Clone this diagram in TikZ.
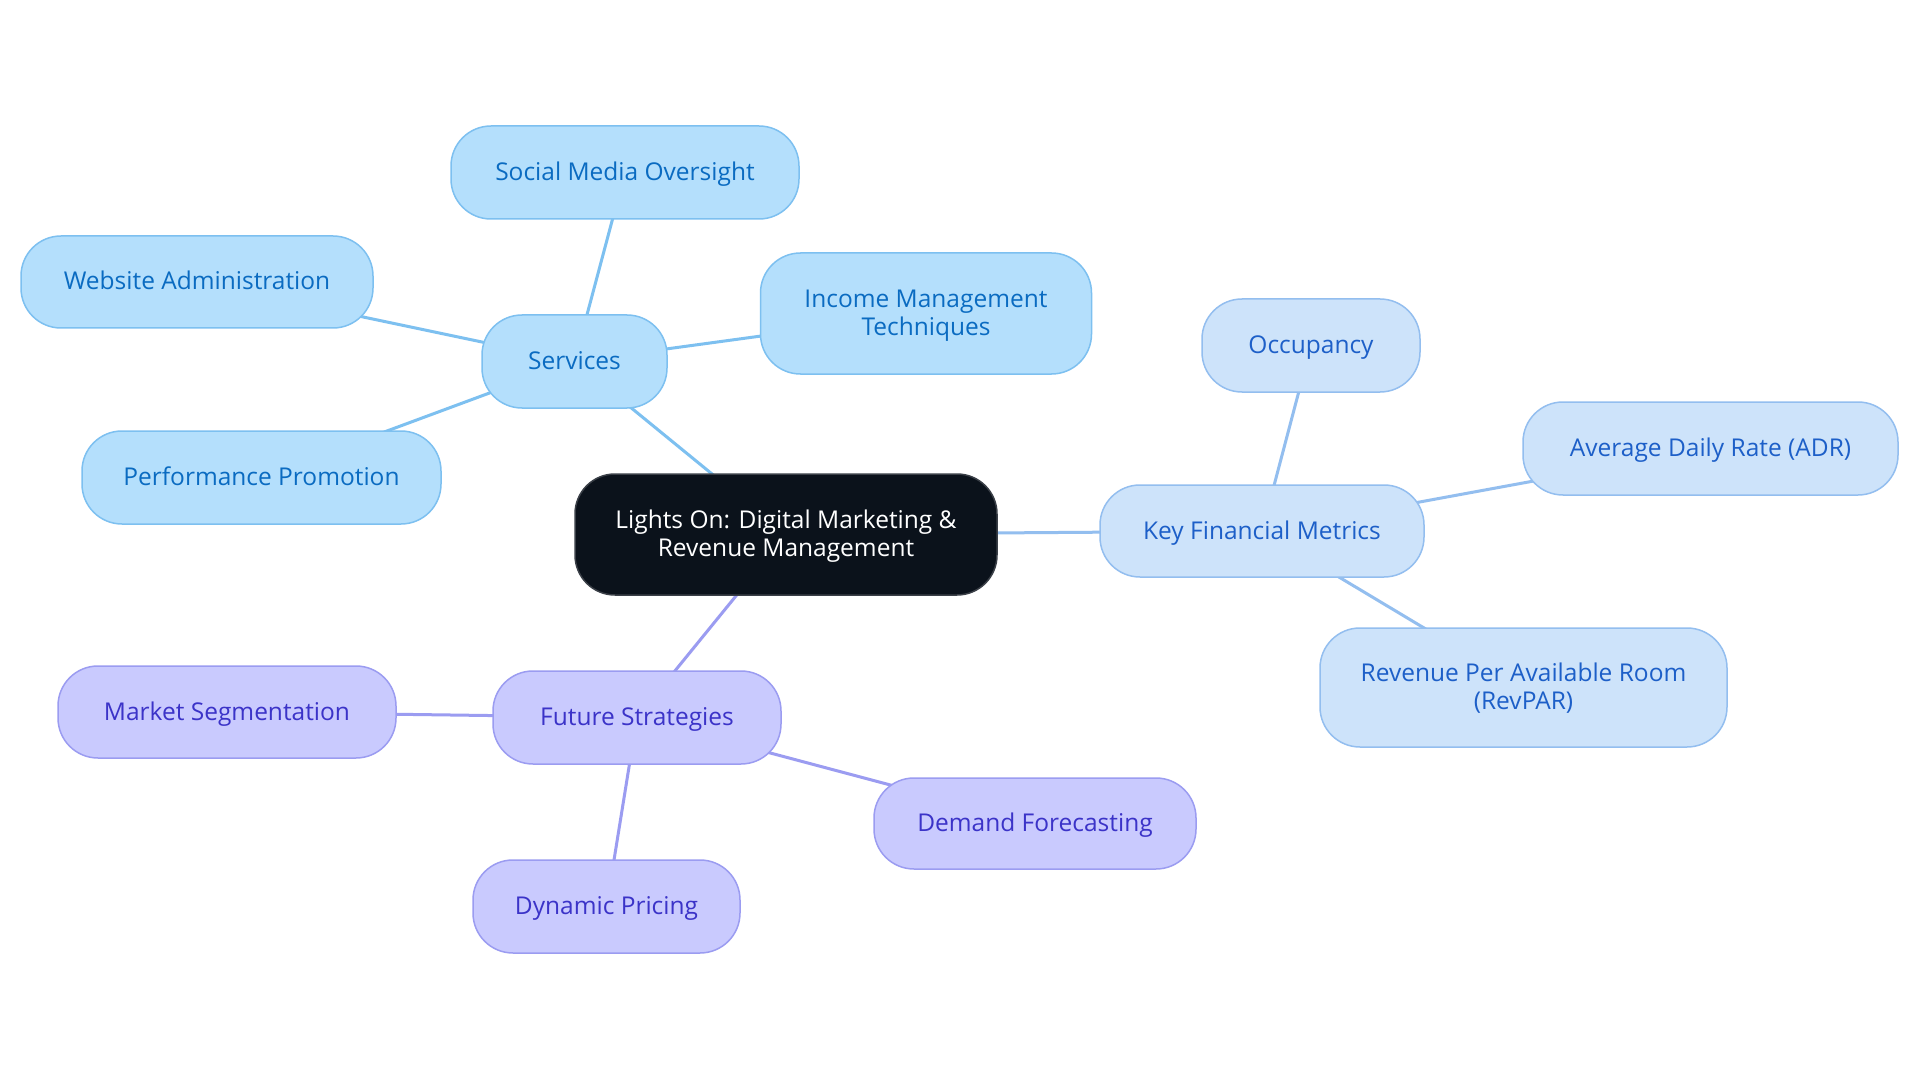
\documentclass[tikz,border=0pt]{standalone}
\usepackage{fontspec}
\setmainfont{Open Sans}
\usetikzlibrary{backgrounds}
\definecolor{svcfill}{HTML}{B4DFFC}
\definecolor{svcdraw}{HTML}{7DC0F0}
\definecolor{svctext}{HTML}{0A6BC1}
\definecolor{kfmfill}{HTML}{CDE3FA}
\definecolor{kfmdraw}{HTML}{93BEEF}
\definecolor{kfmtext}{HTML}{1D5FC8}
\definecolor{futfill}{HTML}{C9CAFE}
\definecolor{futdraw}{HTML}{9B9CF1}
\definecolor{futtext}{HTML}{3B33C8}
\definecolor{ctrfill}{HTML}{0B121B}
\definecolor{ctrdraw}{HTML}{3A3F47}
\tikzset{
  box/.style={rectangle, rounded corners=40pt, inner sep=0pt, line width=1.5pt, align=center,
    font=\fontsize{24.5}{27.5}\selectfont,
    execute at begin node={\rule{0pt}{23pt}},
    execute at end node={\rule[-7pt]{0pt}{7pt}}},
  twoline/.style={execute at begin node={\rule{0pt}{50.5pt}}},
  svc/.style={box, fill=svcfill, draw=svcdraw, text=svctext},
  kfm/.style={box, fill=kfmfill, draw=kfmdraw, text=kfmtext},
  fut/.style={box, fill=futfill, draw=futdraw, text=futtext},
  ctr/.style={box, fill=ctrfill, draw=ctrdraw, text=white},
  svcedge/.style={draw=svcdraw, line width=3pt},
  kfmedge/.style={draw=kfmdraw, line width=3pt},
  futedge/.style={draw=futdraw, line width=3pt},
}
\begin{document}
\begin{tikzpicture}[x=1pt, y=-1pt]
\useasboundingbox (0,0) rectangle (1920,1083);
\node[ctr, twoline, minimum width=422pt, minimum height=121pt] (center) at (786,534.5) {Lights On: Digital Marketing \&\\Revenue Management};
\node[svc, minimum width=185pt, minimum height=93pt] (services) at (574.5,361.5) {Services};
\node[svc, minimum width=348pt, minimum height=93pt] (social) at (625,172.5) {Social Media Oversight};
\node[svc, twoline, minimum width=331pt, minimum height=121pt] (income) at (926,313.5) {Income Management\\Techniques};
\node[svc, minimum width=352pt, minimum height=92pt] (website) at (197,282) {Website Administration};
\node[svc, minimum width=359pt, minimum height=93pt] (perf) at (261.5,477.5) {Performance Promotion};
\node[kfm, minimum width=324pt, minimum height=92pt] (kfmn) at (1262,531) {Key Financial Metrics};
\node[kfm, minimum width=218pt, minimum height=93pt] (occ) at (1311,345.5) {Occupancy};
\node[kfm, minimum width=375pt, minimum height=93pt] (adr) at (1710.5,448.5) {Average Daily Rate (ADR)};
\node[kfm, twoline, minimum width=407pt, minimum height=119pt] (revpar) at (1523.5,687.5) {Revenue Per Available Room\\(RevPAR)};
\node[fut, minimum width=288pt, minimum height=93pt] (future) at (637,717.5) {Future Strategies};
\node[fut, minimum width=338pt, minimum height=92pt] (market) at (227,712) {Market Segmentation};
\node[fut, minimum width=322pt, minimum height=91pt] (demand) at (1035,823.5) {Demand Forecasting};
\node[fut, minimum width=267pt, minimum height=93pt] (dynamic) at (606.5,906.5) {Dynamic Pricing};
\begin{scope}[on background layer]
\fill[white] (0,0) rectangle (1920,1083);
\draw[svcedge] (center.center) -- (services.center);
\draw[svcedge] (services.center) -- (social.center);
\draw[svcedge] (services.center) -- (income.center);
\draw[svcedge] (services.center) -- (website.center);
\draw[svcedge] (services.center) -- (perf.center);
\draw[kfmedge] (center.center) -- (kfmn.center);
\draw[kfmedge] (kfmn.center) -- (occ.center);
\draw[kfmedge] (kfmn.center) -- (adr.center);
\draw[kfmedge] (kfmn.center) -- (revpar.center);
\draw[futedge] (center.center) -- (future.center);
\draw[futedge] (future.center) -- (market.center);
\draw[futedge] (future.center) -- (demand.center);
\draw[futedge] (future.center) -- (dynamic.center);
\end{scope}
\end{tikzpicture}
\end{document}
